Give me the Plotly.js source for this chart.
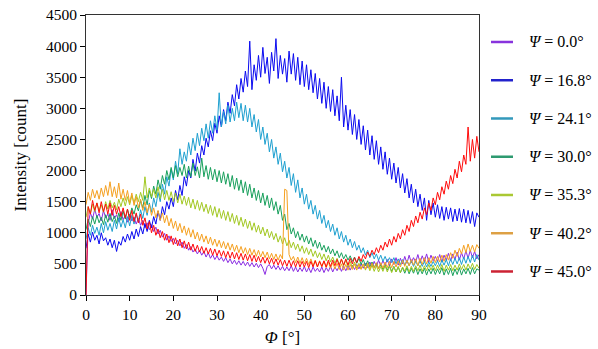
<!DOCTYPE html>
<html>
<head>
<meta charset="utf-8">
<script src="https://cdn.plot.ly/plotly-3.0.1.min.js"></script>
<style>html,body{margin:0;padding:0;background:#fff;}#chart{width:598px;height:349px;}</style>
</head>
<body>
<div id="chart"></div>
<script>
// Φ angle grid, degrees (0..90 in 0.5° steps)
const phi = [];
for (let i = 0; i <= 180; i++) phi.push(i / 2);

const seriesNames = ["<i>Ψ</i> = 0.0°", "<i>Ψ</i> = 16.8°", "<i>Ψ</i> = 24.1°", "<i>Ψ</i> = 30.0°", "<i>Ψ</i> = 35.3°", "<i>Ψ</i> = 40.2°", "<i>Ψ</i> = 45.0°"];

const psi00 = [
  0,1150,1320,1220,1380,1250,1310,1190,1360,1240,1300,1200,1370,1230,1290,1180,1340,1210,1280,1170,
  1300,1190,1250,1140,1230,1120,1200,1080,1160,1050,1130,1020,1090,980,1040,930,990,880,950,860,
  910,820,880,790,850,750,810,720,780,690,740,660,720,640,700,610,680,590,650,570,
  630,560,610,540,600,520,580,500,560,490,550,480,540,470,530,460,520,450,510,440,
  500,430,330,460,490,420,480,410,470,400,460,390,450,390,470,380,450,370,440,380,
  460,370,440,360,450,380,430,370,450,360,440,380,460,370,450,390,470,380,460,390,
  470,400,480,410,490,420,500,430,510,440,530,450,540,460,560,470,550,480,570,470,
  580,490,600,480,590,500,620,510,640,520,600,530,650,520,630,540,660,530,640,550,
  620,540,650,530,640,560,670,550,660,570,690,560,680,580,710,590,720,600,700,580,
  650];

const psi168 = [
  750,980,850,1010,880,960,820,1000,870,920,800,900,760,880,700,860,800,940,850,980,
  880,1020,900,1060,940,1100,980,1150,1020,1200,1080,1260,1140,1350,1200,1420,1290,1500,1380,1560,
  1420,1680,1530,1760,1600,1900,1750,2000,1880,2180,1990,2280,2120,2400,2250,2520,2380,2640,2480,2760,
  2600,2880,2700,2980,2800,3100,2920,3220,3040,3380,3150,3480,3260,3600,3350,4080,3300,3700,3450,3850,
  3500,3980,3560,3820,3400,3900,3600,4120,3480,3850,3550,3800,3420,3920,3550,3880,3450,3820,3380,3760,
  3350,3700,3300,3620,3250,3560,3150,3480,3080,3420,3000,3350,2950,3300,2880,3200,2800,3500,2700,3050,
  2650,2980,2580,2900,2500,2820,2420,2720,2330,2650,2250,2560,2180,2480,2100,2380,2020,2300,1940,2200,
  1860,2120,1800,2050,1720,1950,1640,1870,1560,1780,1480,1700,1420,1620,1360,1560,1200,1520,1290,1480,
  1250,1450,1230,1420,1200,1410,1220,1400,1180,1380,1190,1390,1170,1380,1160,1360,1150,1340,1100,1320,
  1250];

const psi241 = [
  900,1080,960,1120,990,1090,960,1150,1000,1180,1040,1150,1020,1200,1060,1240,1090,1210,1080,1260,
  1110,1280,1140,1300,1180,1370,1230,1420,1280,1480,1330,1560,1420,1650,1500,1780,1620,1900,1750,2020,
  1850,2150,1950,2350,2100,2300,2150,2450,2250,2520,2320,2600,2400,2680,2480,2750,2520,2800,2600,2880,
  2650,3250,2700,2950,2750,3050,2780,3000,2800,3100,2850,3080,2800,3050,2780,3000,2700,2900,2620,2820,
  2500,2700,2420,2600,2300,2500,2200,2380,2100,2280,1980,2150,1880,2050,1760,1950,1650,1850,1560,1720,
  1460,1620,1380,1520,1300,1440,1220,1360,1150,1280,1080,1200,1020,1140,960,1080,900,1020,850,960,
  800,900,760,860,720,800,680,760,640,720,600,680,580,660,560,640,540,620,530,600,
  520,600,500,580,490,570,480,560,470,550,460,540,470,550,460,540,450,530,460,540,
  470,550,460,560,480,570,470,580,490,590,500,600,490,610,510,620,520,640,530,650,
  560];

const psi300 = [
  1050,1220,1100,1260,1140,1280,1160,1250,1130,1290,1170,1310,1180,1270,1150,1320,1200,1350,1220,1380,
  1250,1400,1300,1450,1350,1520,1400,1600,1450,1680,1550,1750,1620,1850,1700,1920,1780,2000,1850,2050,
  1880,2080,1900,2050,1920,2100,1880,2070,1900,2120,1920,2060,1880,2200,1900,2080,1860,2050,1850,2020,
  1820,2000,1800,1980,1780,1950,1740,1920,1700,1880,1680,1850,1640,1820,1600,1780,1560,1720,1520,1680,
  1480,1640,1440,1600,1400,1560,1360,1500,1300,1440,1200,1300,1050,1150,980,1080,920,1020,880,980,
  850,950,820,920,780,880,750,850,720,800,690,780,660,740,630,710,600,680,580,650,
  560,630,540,610,510,590,490,570,470,550,450,530,440,510,430,490,410,480,400,470,
  380,460,370,450,360,440,350,440,340,430,350,440,330,420,340,430,320,420,340,430,
  330,420,340,440,320,420,330,430,310,420,330,440,320,420,340,430,330,440,340,420,
  400];

const psi353 = [
  1250,1420,1300,1460,1340,1480,1360,1450,1330,1500,1380,1520,1400,1490,1370,1540,1420,1560,1430,1580,
  1450,1600,1480,1620,1500,1650,1520,1900,1560,1720,1580,1700,1560,1740,1550,1700,1530,1680,1520,1660,
  1500,1640,1480,1620,1460,1590,1440,1570,1400,1540,1380,1520,1360,1490,1340,1460,1310,1440,1280,1420,
  1250,1390,1230,1360,1200,1340,1180,1310,1150,1280,1120,1250,1100,1220,1070,1190,1040,1160,1010,1120,
  980,1090,950,1060,920,1020,890,990,850,950,820,920,790,880,760,850,730,820,700,790,
  670,760,650,740,620,710,600,680,570,660,550,640,530,610,510,590,490,570,470,560,
  460,540,440,530,430,510,420,500,400,490,390,480,380,470,370,460,380,470,370,460,
  360,450,370,460,360,450,380,470,370,460,380,470,390,480,380,470,390,490,400,480,
  390,480,400,490,380,480,400,490,390,480,400,500,410,490,400,500,420,510,410,490,
  430];

const psi402 = [
  1450,1650,1520,1700,1560,1680,1540,1720,1580,1760,1600,1820,1580,1740,1560,1800,1540,1700,1520,1680,
  1480,1640,1440,1580,1400,1540,1360,1500,1320,1460,1280,1400,1240,1360,1200,1320,1160,1280,1110,1230,
  1070,1190,1030,1150,1000,1110,960,1080,930,1050,900,1010,870,980,850,950,820,930,800,900,
  780,880,760,860,740,840,720,820,700,800,680,780,670,760,650,750,640,730,620,720,
  610,700,600,690,580,670,570,660,560,650,580,1700,1680,650,560,620,520,610,510,600,
  500,590,490,580,470,560,460,550,450,540,440,530,430,520,420,510,410,500,400,490,
  400,490,410,500,400,490,410,500,420,510,420,510,430,520,420,520,430,530,440,540,
  440,540,450,550,450,560,460,560,470,570,480,580,470,590,490,600,500,600,510,620,
  520,620,530,640,540,650,560,680,590,720,620,750,660,800,680,820,700,800,690,810,
  750];

const psi450 = [
  0,1420,1300,1520,1360,1480,1320,1500,1340,1460,1300,1480,1280,1440,1300,1420,1260,1400,1240,1380,
  1200,1360,1180,1320,1160,1300,1120,1240,1060,1180,1000,1120,960,1060,920,1020,880,980,840,950,
  810,920,790,900,760,870,740,850,720,820,700,800,690,780,670,760,660,750,640,740,
  630,720,620,710,600,700,590,690,580,680,570,670,560,660,550,650,540,640,530,620,
  520,610,510,600,500,590,490,580,480,570,470,560,460,560,460,550,450,550,450,540,
  450,540,440,540,450,550,450,540,460,550,450,560,460,560,470,570,470,580,480,580,
  480,590,500,600,520,620,540,650,580,690,620,720,650,760,680,800,720,850,770,900,
  800,940,850,990,900,1050,960,1120,1020,1200,1100,1270,1160,1330,1220,1400,1290,1480,1360,1560,
  1450,1650,1530,1740,1620,1830,1700,1920,1790,2020,1880,2150,1980,2250,2100,2700,2150,2500,2200,2550,
  2300];

const seriesValues = [psi00, psi168, psi241, psi300, psi353, psi402, psi450];
const seriesColors = ["#8a2be2", "#0a0af0", "#1ea0d0", "#18a05c", "#a2c822", "#f5a020", "#ff0a0a"];
const legendColors = ["#8833dd", "#2222cc", "#3399bb", "#2e9a70", "#aac833", "#dda044", "#cc2233"];

const yTickVals = [0,500,1000,1500,2000,2500,3000,3500,4000,4500];
const xTickVals = [0,10,20,30,40,50,60,70,80,90];

const traces = seriesValues.map((vals, i) => ({
  x: phi, y: vals, type: "scatter", mode: "lines",
  name: seriesNames[i], showlegend: false,
  line: {color: seriesColors[i], width: 1}
}));

const fam = "Liberation Serif";

// hand-built legend (line sample + label) to the right of the plot
const shapes = [], annotations = [];
seriesNames.forEach((nm, i) => {
  const yy = 0.9036 - i * 0.1366;
  shapes.push({type: "line", xref: "paper", yref: "paper", x0: 1.0305, x1: 1.0865, y0: yy, y1: yy,
    line: {color: legendColors[i], width: 2.5}});
  annotations.push({xref: "paper", yref: "paper", x: 1.1221, y: yy, xanchor: "left", yanchor: "middle",
    text: nm, showarrow: false, font: {family: fam, size: 16, color: "#000"}});
});

const layout = {
  width: 598, height: 349,
  margin: {l: 86, r: 119, t: 15, b: 54},
  paper_bgcolor: "#fff", plot_bgcolor: "#fff",
  font: {family: fam, color: "#000", size: 15},
  showlegend: false,
  shapes: shapes, annotations: annotations,
  xaxis: {range: [0, 90], tickvals: xTickVals, ticks: "outside", ticklen: 5, tickcolor: "#000",
    showline: true, linecolor: "#333", linewidth: 1, mirror: true, showgrid: false, zeroline: false,
    tickfont: {family: fam, size: 15.5}, title: {text: "<i>Φ</i> [°]", font: {family: fam, size: 17}, standoff: 9}},
  yaxis: {range: [0, 4500], tickvals: yTickVals, ticks: "outside", ticklen: 5, tickcolor: "#000",
    showline: true, linecolor: "#333", linewidth: 1, mirror: true, showgrid: false, zeroline: false,
    tickfont: {family: fam, size: 15.5}, title: {text: "Intensity [count]", font: {family: fam, size: 17}, standoff: 14}}
};

Plotly.newPlot("chart", traces, layout, {staticPlot: true, displayModeBar: false});
</script>
</body>
</html>
